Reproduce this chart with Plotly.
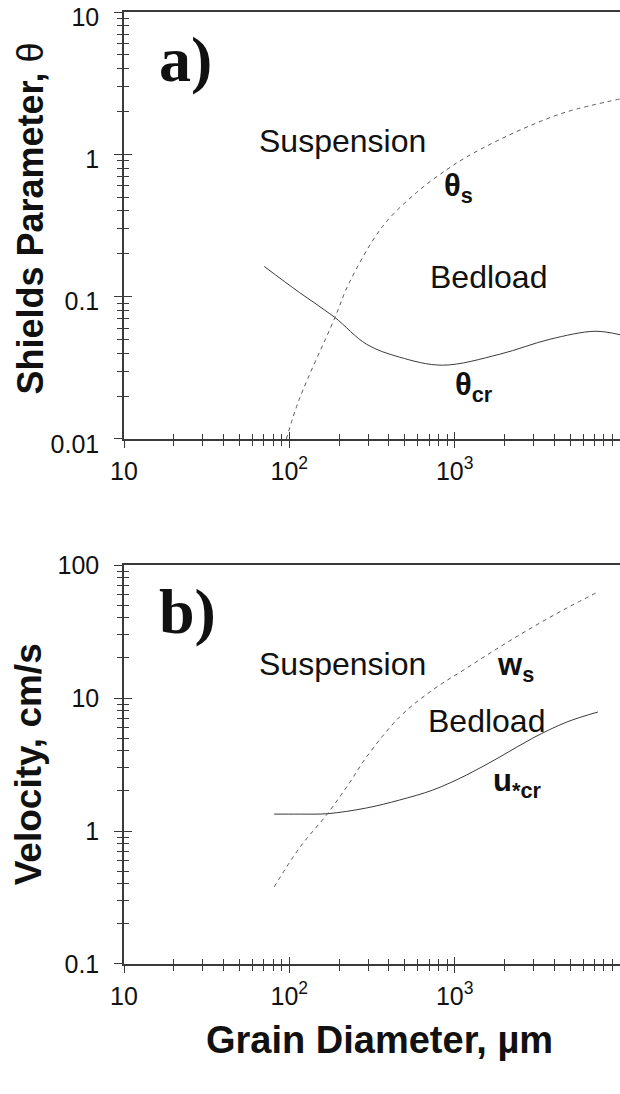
import plotly.graph_objects as go

# ---- data ----
# Panel a: Shields parameter vs grain diameter (um)
d_theta_cr = [70.5, 115, 187, 293, 464, 845, 1873, 3767, 7050, 10000]
theta_cr = [0.163, 0.107, 0.072, 0.0463, 0.0376, 0.033, 0.0394, 0.0502, 0.0571, 0.054]

d_theta_s = [96, 115, 187, 231, 366, 589, 895, 1183, 1873, 2973, 4770, 10000]
theta_s = [0.01, 0.0191, 0.0695, 0.126, 0.311, 0.54, 0.78, 0.96, 1.27, 1.62, 1.99, 2.45]

# Panel b: velocities vs grain diameter (um)
d_ucr = [81, 115, 170, 293, 464, 736, 1183, 1873, 2973, 4770, 7360]
u_cr = [1.34, 1.34, 1.35, 1.49, 1.71, 2.03, 2.64, 3.6, 5.0, 6.6, 7.85]

d_ws = [81, 115, 170, 231, 293, 464, 736, 1183, 1873, 2973, 4770, 7360]
w_s = [0.38, 0.745, 1.35, 2.3, 3.6, 7.2, 11.5, 16.8, 24.2, 34.2, 47.5, 62.7]

x_tickvals = [10, 100, 1000]
x_ticktext = ["10", "10<sup>2</sup>", "10<sup>3</sup>"]
ya_tickvals = [0.01, 0.1, 1, 10]
ya_ticktext = ["0.01", "0.1", "1", "10"]
yb_tickvals = [0.1, 1, 10, 100]
yb_ticktext = ["0.1", "1", "10", "100"]

def minor_vals(lo_exp, hi_exp):
    return [m * 10 ** e for e in range(lo_exp, hi_exp) for m in range(2, 10)]

FONT = "Arial, 'Liberation Sans', sans-serif"
SERIF = "'Times New Roman', 'Liberation Serif', serif"
AX = "#3a3a3a"

fig = go.Figure()

solid = dict(color="#3a3a3a", width=1)
dashed = dict(color="#5a5a5a", width=1, dash="4px,4px")

fig.add_trace(go.Scatter(x=d_theta_cr, y=theta_cr, mode="lines", line=solid,
                         line_shape="spline", xaxis="x", yaxis="y", showlegend=False))
fig.add_trace(go.Scatter(x=d_theta_s, y=theta_s, mode="lines", line=dashed,
                         line_shape="spline", xaxis="x", yaxis="y", showlegend=False))
fig.add_trace(go.Scatter(x=d_ucr, y=u_cr, mode="lines", line=solid,
                         line_shape="spline", xaxis="x2", yaxis="y2", showlegend=False))
fig.add_trace(go.Scatter(x=d_ws, y=w_s, mode="lines", line=dashed,
                         line_shape="spline", xaxis="x2", yaxis="y2", showlegend=False))
# empty traces for the overlay (inward-tick) axes
for xa, ya in (("x3", "y3"), ("x4", "y4")):
    fig.add_trace(go.Scatter(x=[None], y=[None], xaxis=xa, yaxis=ya,
                             showlegend=False, hoverinfo="skip"))

dom_a = [0.5515, 1.0]
dom_b = [0.0, 0.4191]
xrange_log = [1, 4]

def xax(anchor, labels=True, ticks="outside", overlay=None, mirror=True):
    d = dict(type="log", range=xrange_log, anchor=anchor, automargin=False,
             tickvals=x_tickvals, ticktext=x_ticktext if labels else None,
             showticklabels=labels, ticks=ticks, ticklen=7, tickwidth=1.3,
             tickcolor=AX, showgrid=False, zeroline=False,
             minor=dict(tickvals=minor_vals(1, 4), ticks=ticks, ticklen=5,
                        tickwidth=1, tickcolor=AX, showgrid=False),
             tickfont=dict(family=FONT, size=25, color="#111"),
             ticklabelstandoff=2, ticklabeloverflow="allow")
    if overlay:
        d.update(overlaying=overlay, showline=False)
    else:
        d.update(showline=True, linecolor=AX, linewidth=1.5, mirror=mirror)
    return d

def yax(anchor, domain, rng, tv, tt, exps, labels=True, ticks="outside", overlay=None,
        shift=0):
    d = dict(type="log", range=rng, anchor=anchor, automargin=False,
             tickvals=tv, ticktext=tt if labels else None,
             showticklabels=labels, ticks=ticks, ticklen=8, tickwidth=1.3,
             tickcolor=AX, showgrid=False, zeroline=False,
             minor=dict(tickvals=minor_vals(*exps), ticks=ticks, ticklen=5,
                        tickwidth=1, tickcolor=AX, showgrid=False),
             tickfont=dict(family=FONT, size=25, color="#111"),
             ticklabelstandoff=10, ticklabeloverflow="allow", ticklabelshift=shift)
    if overlay:
        d.update(overlaying=overlay, showline=False)
    else:
        d.update(domain=domain, showline=True, linecolor=AX, linewidth=1.5)
    return d

fig.update_layout(
    width=620, height=1094,
    margin=dict(l=124, r=0, t=12, b=130, autoexpand=False),
    paper_bgcolor="white", plot_bgcolor="white",
    xaxis=xax("y"),
    yaxis=yax("x", dom_a, [-2, 1], ya_tickvals, ya_ticktext, (-2, 1), shift=5),
    xaxis2=xax("y2"),
    yaxis2=yax("x2", dom_b, [-1, 2], yb_tickvals, yb_ticktext, (-1, 2)),
    xaxis3=xax("y", labels=False, ticks="inside", overlay="x"),
    yaxis3=yax("x", dom_a, [-2, 1], ya_tickvals, ya_ticktext, (-2, 1),
               labels=False, ticks="inside", overlay="y"),
    xaxis4=xax("y2", labels=False, ticks="inside", overlay="x2"),
    yaxis4=yax("x2", dom_b, [-1, 2], yb_tickvals, yb_ticktext, (-1, 2),
               labels=False, ticks="inside", overlay="y2"),
    showlegend=False,
)

def note(text, x, y, xref, yref, size, family=FONT, **kw):
    fig.add_annotation(text=text, x=x, y=y, xref=xref, yref=yref, showarrow=False,
                       xanchor="center", yanchor="middle",
                       font=dict(family=family, size=size, color="#111"), **kw)

# Panel a labels (log10 data coordinates)
note("<b>a)</b>", 1.373, 0.663, "x", "y", 64, SERIF)
note("Suspension", 2.323, 0.0935, "x", "y", 32)
note("Bedload", 3.206, -0.862, "x", "y", 32)
note("<b>θ<sub>s</sub></b>", 3.025, -0.237, "x", "y", 31)
note("<b>θ<sub>cr</sub></b>", 3.116, -1.635, "x", "y", 31)

# Panel b labels
note("<b>b)</b>", 1.385, 1.647, "x2", "y2", 64, SERIF)
note("Suspension", 2.323, 1.256, "x2", "y2", 32)
note("Bedload", 3.194, 0.827, "x2", "y2", 32)
note("<b>w<sub>s</sub></b>", 3.370, 1.233, "x2", "y2", 31)
note("<b>u<sub>*cr</sub></b>", 3.376, 0.361, "x2", "y2", 31)

# Axis titles
note("<b>Shields Parameter, </b>θ", -0.1875, 0.783, "paper", "paper", 36,
     textangle=-90)
note("<b>Velocity, cm/s</b>", -0.192, (dom_b[0] + dom_b[1]) / 2, "paper", "paper", 37,
     textangle=-90)
note("<b>Grain Diameter, µm</b>", 0.516, -0.0798, "paper", "paper", 38)

# remove the browser's default 8px body margin so the figure fills the window
fig.write_html("out.html", config={"displayModeBar": False},
               post_script="document.body.style.margin='0';")
